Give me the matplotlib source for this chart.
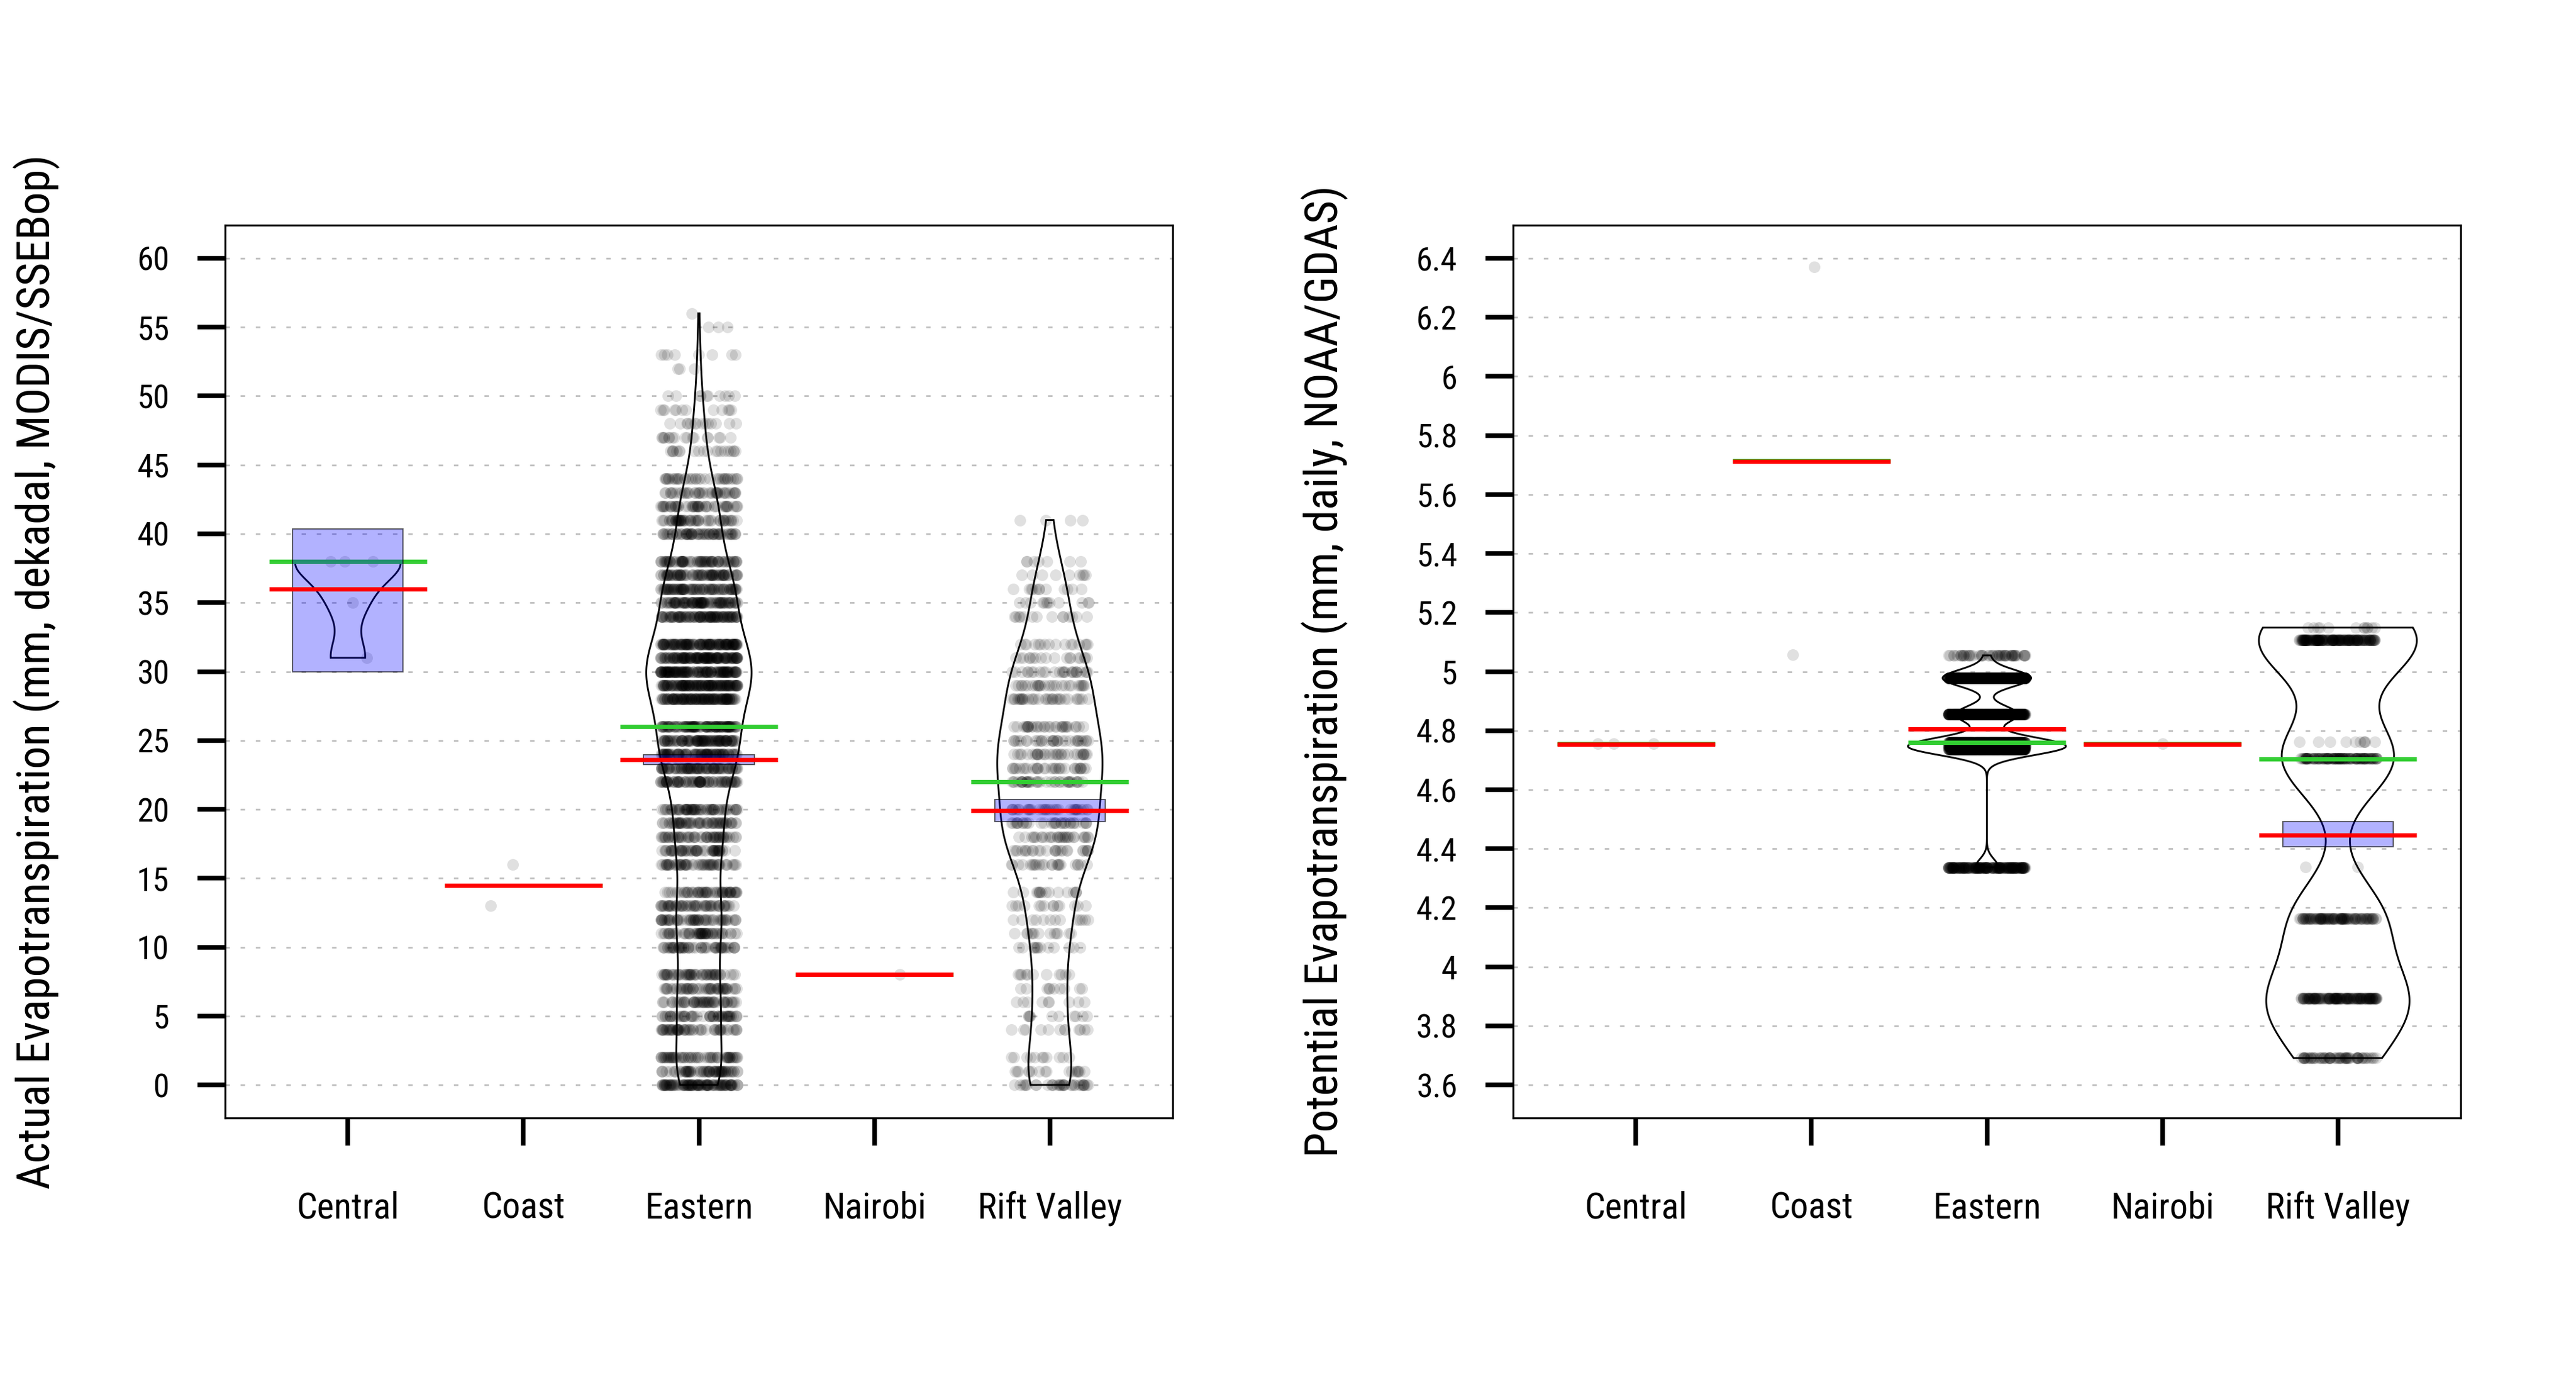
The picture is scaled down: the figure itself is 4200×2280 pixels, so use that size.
import numpy as np
import matplotlib
matplotlib.use("Agg")
import matplotlib.pyplot as plt
from matplotlib import font_manager
from matplotlib.patches import Rectangle
from matplotlib.transforms import blended_transform_factory

# ---------------- data ----------------
regions = ["Central", "Coast", "Eastern", "Nairobi", "Rift Valley"]

# Actual evapotranspiration (left panel): observed values and how many times each occurs
aet_central_vals = [31, 35, 38]
aet_central_cnts = [1, 1, 3]
aet_coast_vals = [13, 16]
aet_coast_cnts = [1, 1]
aet_eastern_vals = [0, 1, 2, 4, 5, 6, 7, 8, 10, 11, 12, 13, 14, 16, 17, 18, 19, 20,
                    22, 23, 24, 25, 26, 28, 29, 30, 31, 32, 34, 35, 36, 37, 38,
                    40, 41, 42, 43, 44, 46, 47, 48, 49, 50, 52, 53, 55, 56]
aet_eastern_cnts = [110, 70, 64, 58, 56, 55, 55, 56, 57, 59, 61, 59, 57, 57, 57, 60, 64, 70,
                    86, 92, 100, 110, 118, 135, 142, 146, 143, 135, 110, 100, 92, 84, 78,
                    66, 58, 50, 42, 38, 20, 17, 14, 12, 10, 3, 8, 3, 1]
aet_nairobi_vals = [8]
aet_nairobi_cnts = [1]
aet_rift_vals = [0, 1, 2, 4, 5, 6, 7, 8, 10, 11, 12, 13, 14, 16, 17, 18, 19, 20,
                 22, 23, 24, 25, 26, 28, 29, 30, 31, 32, 34, 35, 36, 37, 38, 41]
aet_rift_cnts = [34, 17, 11, 12, 10, 9, 10, 11, 13, 13, 13, 14, 16, 24, 26, 30, 32, 33,
                 38, 32, 32, 32, 31, 33, 28, 26, 18, 16, 14, 12, 12, 9, 7, 4]

aet_means = [36.0, 14.5, 23.6, 8.0, 19.93]
aet_medians = [38.0, 14.5, 26.0, 8.0, 22.0]
aet_band_low = [30.0, np.nan, 23.25, np.nan, 19.10]
aet_band_high = [40.37, np.nan, 23.95, np.nan, 20.73]

# Potential evapotranspiration (right panel)
pet_central_vals = [4.755]
pet_central_cnts = [3]
pet_coast_vals = [5.057, 6.371]
pet_coast_cnts = [1, 1]
pet_eastern_vals = [4.337, 4.737, 4.748, 4.760, 4.855, 4.978, 5.055]
pet_eastern_cnts = [220, 600, 550, 450, 600, 850, 55]
pet_nairobi_vals = [4.755]
pet_nairobi_cnts = [1]
pet_rift_vals = [3.691, 3.893, 4.164, 4.339, 4.705, 4.762, 5.106, 5.149]
pet_rift_cnts = [65, 145, 105, 2, 128, 10, 183, 12]

pet_means = [4.753, 5.712, 4.806, 4.753, 4.447]
pet_medians = [4.755, 5.714, 4.760, 4.755, 4.704]
pet_band_low = [np.nan, np.nan, 4.802, np.nan, 4.406]
pet_band_high = [np.nan, np.nan, 4.810, np.nan, 4.491]

aet_ticks = [0, 5, 10, 15, 20, 25, 30, 35, 40, 45, 50, 55, 60]
pet_ticks = [3.6, 3.8, 4.0, 4.2, 4.4, 4.6, 4.8, 5.0, 5.2, 5.4, 5.6, 5.8, 6.0, 6.2, 6.4]

aet_label = "Actual Evapotranspiration (mm, dekadal, MODIS/SSEBop)"
pet_label = "Potential Evapotranspiration (mm, daily, NOAA/GDAS)"

# ---------------- fonts ----------------
names = {f.name for f in font_manager.fontManager.ttflist}
stretch = "normal"
if "Roboto Condensed" in names:
    fam = ["Roboto Condensed", "DejaVu Sans"]
elif any(f.name == "Roboto" and str(f.stretch) in ("condensed", "semi-condensed", "75", "87.5")
         for f in font_manager.fontManager.ttflist):
    fam = ["Roboto", "DejaVu Sans"]
    stretch = "condensed"
elif "Roboto" in names:
    fam = ["Roboto", "DejaVu Sans"]
else:
    fam = ["DejaVu Sans"]
plt.rcParams["font.family"] = fam
plt.rcParams["font.stretch"] = stretch

W, H = 4200, 2280
fig = plt.figure(figsize=(W / 300, H / 300), dpi=300)
renderer = fig.canvas.get_renderer()


def fit_size(text, target_px, base=12.0):
    t = fig.text(0, 0, text, fontsize=base)
    w = t.get_window_extent(renderer).width
    t.remove()
    return base * target_px / w


fs_tick = fit_size("60", 53)
fs_name = fit_size("Rift Valley", 236)
fs_lab = fit_size(aet_label, 1685)

PX = 72.0 / 300.0  # points per pixel


def nrd0(x):
    sd = np.std(x, ddof=1)
    q75, q25 = np.percentile(x, [75, 25])
    lo = min(sd, (q75 - q25) / 1.34)
    if lo <= 0:
        lo = sd if sd > 0 else 1.0
    return 0.9 * lo * len(x) ** -0.2


def jitter(n, amount, salt):
    # deterministic hash-based horizontal scatter (layout only)
    i = np.arange(n, dtype=float) + 1.0
    h = np.sin(i * 12.9898 + salt * 78.233) * 43758.5453
    u = h - np.floor(h)
    return u * 2 * amount - amount


def draw_panel(ax, groups, means, medians, blo, bhi, ylim, ticks, bean_w, ylabel, lab_x, salt0):
    pad = 0.04 * (ylim[1] - ylim[0])
    ax.set_xlim(0.3, 5.7)
    ax.set_ylim(ylim[0] - pad, ylim[1] + pad)
    for t in ticks:
        ax.axhline(t, color=(0.745, 0.745, 0.745), lw=2.7 * PX,
                   linestyle=(0, (2.7, 6.5)), zorder=0.5)
    for i, (vals, cnts) in enumerate(groups):
        pos = i + 1
        v = np.asarray(vals, float)
        c = np.asarray(cnts, int)
        x = np.repeat(v, c)
        ax.scatter(pos + jitter(len(x), 0.22, salt0 + i), x, s=(19 * PX) ** 2, c="black",
                   alpha=0.12, linewidths=0, zorder=2)
        if len(x) >= 3 and len(v) > 1:
            bw = nrd0(x)
            y = np.linspace(x.min(), x.max(), 800)
            d = (c[None, :] * np.exp(-0.5 * ((y[:, None] - v[None, :]) / bw) ** 2)).sum(1)
            d = d / d.max() * bean_w
            xs = np.concatenate([pos + d, (pos - d)[::-1]])
            ys = np.concatenate([y, y[::-1]])
            ax.fill(xs, ys, facecolor="none", edgecolor="black", lw=2.9 * PX,
                    closed=True, zorder=3)
        ax.plot([pos - 0.45, pos + 0.45], [medians[i]] * 2, color="#32CD32",
                lw=7 * PX, solid_capstyle="butt", zorder=4)
        if np.isfinite(blo[i]):
            ax.add_patch(Rectangle((pos - 0.315, blo[i]), 0.63, bhi[i] - blo[i],
                                   facecolor=(0, 0, 1, 0.3), edgecolor=(0, 0, 0, 0.6),
                                   lw=2 * PX, zorder=5))
        ax.plot([pos - 0.45, pos + 0.45], [means[i]] * 2, color="red",
                lw=7 * PX, solid_capstyle="butt", zorder=6)

    ax.set_yticks(ticks)
    ax.set_yticklabels(["%g" % t for t in ticks])
    ax.set_xticks(range(1, 6))
    ax.set_xticklabels([])
    ax.tick_params(axis="y", length=45 * PX, width=7.5 * PX, pad=46 * PX,
                   labelsize=fs_tick, color="black")
    ax.tick_params(axis="x", length=45 * PX, width=7.5 * PX, color="black")
    for s in ax.spines.values():
        s.set_linewidth(3.2 * PX)
        s.set_color("black")
    tr = blended_transform_factory(ax.transData, ax.transAxes)
    ybase = -(1986 - 1822) / 1455.0
    for i, name in enumerate(regions):
        ax.text(i + 1, ybase, name, transform=tr, ha="center", va="baseline",
                fontsize=fs_name)
    fig.text(lab_x / W, 1 - 1094.5 / H, ylabel, rotation=90, ha="center",
             va="center", fontsize=fs_lab)


ax1 = fig.add_axes([367 / W, (H - 1822) / H, 1545 / W, 1455 / H])
ax2 = fig.add_axes([2467 / W, (H - 1822) / H, 1545 / W, 1455 / H])

aet_groups = [(aet_central_vals, aet_central_cnts), (aet_coast_vals, aet_coast_cnts),
              (aet_eastern_vals, aet_eastern_cnts), (aet_nairobi_vals, aet_nairobi_cnts),
              (aet_rift_vals, aet_rift_cnts)]
pet_groups = [(pet_central_vals, pet_central_cnts), (pet_coast_vals, pet_coast_cnts),
              (pet_eastern_vals, pet_eastern_cnts), (pet_nairobi_vals, pet_nairobi_cnts),
              (pet_rift_vals, pet_rift_cnts)]

draw_panel(ax1, aet_groups, aet_means, aet_medians, aet_band_low, aet_band_high,
           (0, 60), aet_ticks, 0.30, aet_label, 60, 1)
draw_panel(ax2, pet_groups, pet_means, pet_medians, pet_band_low, pet_band_high,
           (3.6, 6.4), pet_ticks, 0.45, pet_label, 2160, 11)

fig.savefig("out.png", dpi=300, facecolor="white")
